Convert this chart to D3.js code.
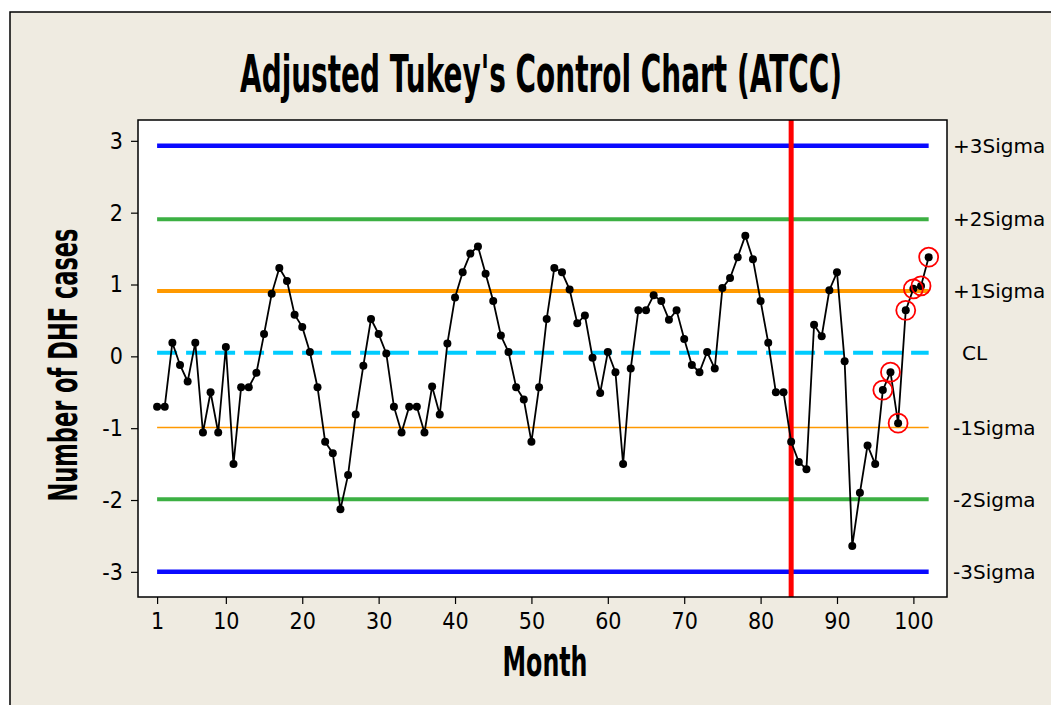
<!DOCTYPE html>
<html>
  <head>
    <meta charset="utf-8">
    <title>Adjusted Tukey's Control Chart (ATCC)</title>
    <script src="https://d3js.org/d3.v7.min.js"></script>
    <style>
      body { margin: 0; background: #fff; }
      .tick-label { font-family: "DejaVu Sans Condensed", "DejaVu Sans", sans-serif; font-stretch: condensed; font-size: 23px; fill: #000; }
      .limit-label { font-family: "DejaVu Sans", sans-serif; font-size: 20px; fill: #000; }
      .big { font-family: "DejaVu Sans", sans-serif; font-weight: bold; fill: #000; }
    </style>
  </head>
  <body>
  <svg id="chart" width="1051" height="705"></svg>

  <script>
  // DHF cases, standardized, month 1..102
  var months = d3.range(1, 103);
  var values = [
    -0.70, -0.70, 0.19, -0.12, -0.35, 0.19, -1.06, -0.50, -1.06, 0.13,
    -1.50, -0.43, -0.43, -0.23, 0.31, 0.87, 1.23, 1.05, 0.58, 0.41,
    0.06, -0.43, -1.19, -1.35, -2.13, -1.65, -0.81, -0.13, 0.52, 0.31,
    0.04, -0.70, -1.06, -0.70, -0.70, -1.06, -0.42, -0.81, 0.18, 0.82,
    1.17, 1.43, 1.53, 1.15, 0.77, 0.29, 0.06, -0.43, -0.60, -1.19,
    -0.43, 0.52, 1.23, 1.17, 0.93, 0.46, 0.57, -0.02, -0.51, 0.06,
    -0.22, -1.50, -0.17, 0.64, 0.64, 0.85, 0.77, 0.51, 0.64, 0.24,
    -0.12, -0.22, 0.06, -0.17, 0.95, 1.09, 1.38, 1.68, 1.35, 0.77,
    0.19, -0.50, -0.50, -1.19, -1.47, -1.57, 0.44, 0.28, 0.92, 1.17,
    -0.07, -2.64, -1.90, -1.24, -1.50, -0.47, -0.22, -0.93, 0.64, 0.94,
    0.98, 1.38
  ];
  // months flagged with a red ring
  var flagged = [96, 97, 98, 99, 100, 101, 102];
  // vertical marker
  var changeMonth = 84;

  // control limits
  var limitNames  = ["+3Sigma", "+2Sigma", "+1Sigma", "CL", "-1Sigma", "-2Sigma", "-3Sigma"];
  var limitValues = [2.93, 1.91, 0.91, 0.05, -0.99, -1.99, -3.00];
  var limitColors = ["#0a0aff", "#3cb043", "#ff9900", "#00ccff", "#ff9900", "#3cb043", "#0a0aff"];
  var limitWidths = [4.5, 4, 4, 4, 1.5, 4, 4.5];

  var xTicks = [1, 10, 20, 30, 40, 50, 60, 70, 80, 90, 100];
  var yTicks = [-3, -2, -1, 0, 1, 2, 3];

  var svg = d3.select("#chart");
  var plot = { left: 138, top: 120, right: 947, bottom: 597 };

  var x = d3.scaleLinear().domain([-1.5, 104.4]).range([plot.left, plot.right]);
  var y = d3.scaleLinear().domain([-3.35, 3.29]).range([plot.bottom, plot.top]);

  // beige frame
  svg.append("rect")
    .attr("x", 10).attr("y", 12)
    .attr("width", 1100).attr("height", 800)
    .attr("fill", "#efebe1")
    .attr("stroke", "#000").attr("stroke-width", 1.5);

  // plot area
  svg.append("rect")
    .attr("x", plot.left).attr("y", plot.top)
    .attr("width", plot.right - plot.left).attr("height", plot.bottom - plot.top)
    .attr("fill", "#fff");

  // limit lines
  var first = months[0], last = months[months.length - 1];
  svg.append("g").selectAll("line")
    .data(limitValues)
    .enter().append("line")
      .attr("x1", x(first)).attr("x2", x(last))
      .attr("y1", function(d) { return y(d); })
      .attr("y2", function(d) { return y(d); })
      .attr("stroke", function(d, i) { return limitColors[i]; })
      .attr("stroke-width", function(d, i) { return limitWidths[i]; })
      .attr("stroke-dasharray", function(d, i) { return limitNames[i] == "CL" ? "20,9" : null; });

  svg.append("g").selectAll("text")
    .data(limitValues)
    .enter().append("text")
      .attr("class", "limit-label")
      .attr("x", plot.right + 6)
      .attr("dx", function(d, i) { return limitNames[i] == "CL" ? 9 : 0; })
      .attr("y", function(d) { return y(d); })
      .attr("dy", "0.36em")
      .text(function(d, i) { return limitNames[i]; });

  // red marker line
  svg.append("line")
    .attr("x1", x(changeMonth)).attr("x2", x(changeMonth))
    .attr("y1", plot.top).attr("y2", plot.bottom)
    .attr("stroke", "#ff0000").attr("stroke-width", 5);

  // series
  var pts = months.map(function(m, i) { return { m: m, v: values[i] }; });
  var line = d3.line()
    .x(function(d) { return x(d.m); })
    .y(function(d) { return y(d.v); });

  svg.append("path")
    .datum(pts)
    .attr("fill", "none")
    .attr("stroke", "#000")
    .attr("stroke-width", 1.8)
    .attr("d", line);

  svg.append("g").selectAll("circle")
    .data(pts)
    .enter().append("circle")
      .attr("cx", function(d) { return x(d.m); })
      .attr("cy", function(d) { return y(d.v); })
      .attr("r", 4)
      .attr("fill", "#000");

  svg.append("g").selectAll("circle")
    .data(pts.filter(function(d) { return flagged.indexOf(d.m) >= 0; }))
    .enter().append("circle")
      .attr("cx", function(d) { return x(d.m); })
      .attr("cy", function(d) { return y(d.v); })
      .attr("r", 9.5)
      .attr("fill", "none")
      .attr("stroke", "#ff0000")
      .attr("stroke-width", 1.8);

  // plot border
  svg.append("rect")
    .attr("x", plot.left).attr("y", plot.top)
    .attr("width", plot.right - plot.left).attr("height", plot.bottom - plot.top)
    .attr("fill", "none")
    .attr("stroke", "#000").attr("stroke-width", 1.5);

  // axes (plain hyphen minus, integer labels)
  var fmt = function(d) { return String(d); };
  var xAxis = svg.append("g")
    .attr("transform", "translate(0," + plot.bottom + ")")
    .call(d3.axisBottom(x).tickValues(xTicks).tickFormat(fmt).tickSize(7).tickPadding(9).tickSizeOuter(0));
  var yAxis = svg.append("g")
    .attr("transform", "translate(" + plot.left + ",0)")
    .call(d3.axisLeft(y).tickValues(yTicks).tickFormat(fmt).tickSize(7).tickPadding(8).tickSizeOuter(0));

  [xAxis, yAxis].forEach(function(a) {
    a.select(".domain").remove();
    a.selectAll(".tick line").attr("stroke", "#000").attr("stroke-width", 1.2);
    a.selectAll(".tick text").attr("class", "tick-label").attr("font-size", null).attr("font-family", null);
    a.attr("font-size", null).attr("font-family", null);
  });

  // titles
  svg.append("text")
    .attr("class", "big")
    .attr("x", 541).attr("y", 92)
    .attr("text-anchor", "middle")
    .attr("font-size", 52)
    .attr("textLength", 602)
    .attr("lengthAdjust", "spacingAndGlyphs")
    .text("Adjusted Tukey's Control Chart (ATCC)");

  svg.append("text")
    .attr("class", "big")
    .attr("transform", "translate(77,365) rotate(-90)")
    .attr("text-anchor", "middle")
    .attr("font-size", 39)
    .attr("textLength", 273)
    .attr("lengthAdjust", "spacingAndGlyphs")
    .text("Number of DHF cases");

  svg.append("text")
    .attr("class", "big")
    .attr("x", 545).attr("y", 676)
    .attr("text-anchor", "middle")
    .attr("font-size", 40)
    .attr("textLength", 85)
    .attr("lengthAdjust", "spacingAndGlyphs")
    .text("Month");
  </script>
  </body>
</html>
